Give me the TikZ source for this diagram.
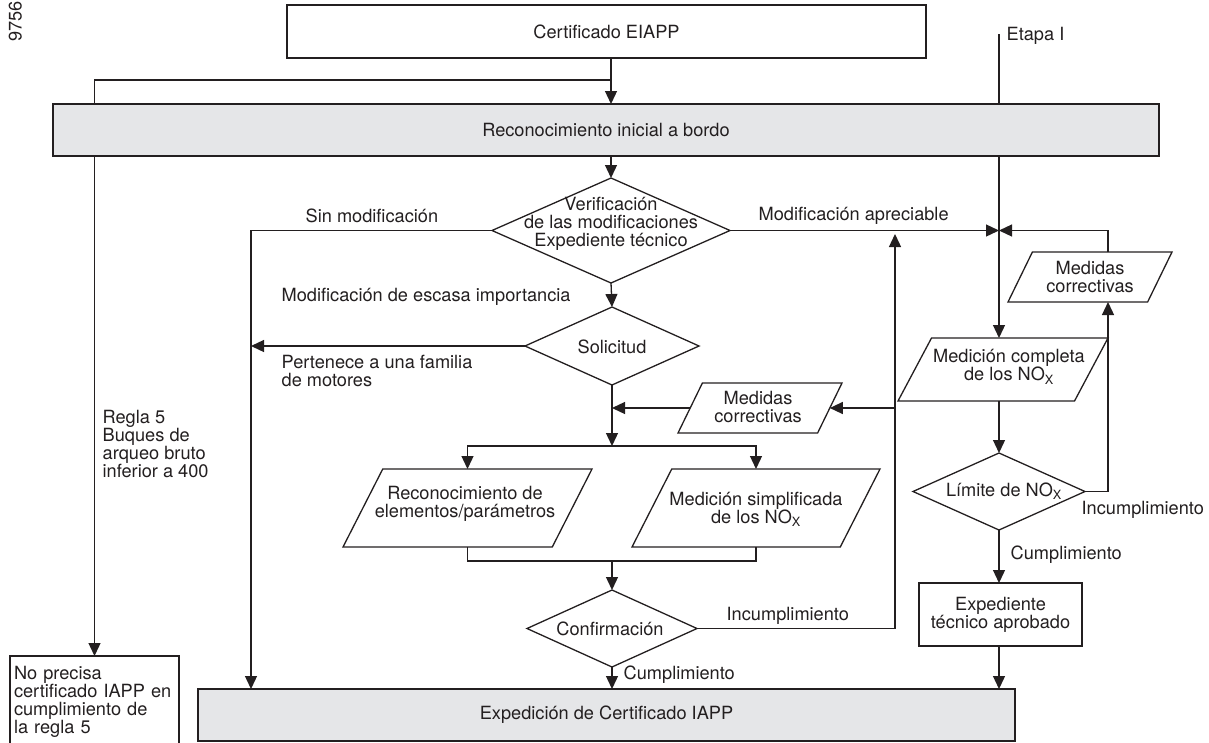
\documentclass[tikz,border=0pt]{standalone}
\usepackage{fontspec}
\setmainfont{TeX Gyre Heros}
\usetikzlibrary{arrows.meta,shapes.geometric}
\definecolor{ink}{RGB}{35,31,32}
\definecolor{panel}{RGB}{229,230,232}
\newcommand{\diagfont}{\fontsize{18.2}{18}\selectfont}

\begin{document}
\begin{tikzpicture}[x=1pt,y=1pt,yscale=-1,xscale=1,color=ink,line width=1.3pt,
  arr/.style={-{Triangle[length=13pt,width=12pt]}},
  box/.style={draw,rectangle,inner sep=0,outer sep=0,font=\diagfont,align=center},
  grey/.style={box,fill=panel},
  dec/.style={draw,diamond,inner sep=0,outer sep=0},
  io/.style={draw,trapezium,trapezium left angle=63,trapezium right angle=117,trapezium stretches body,inner xsep=0,outer sep=0},
  txt/.style={inner sep=0,align=center,font=\diagfont},
  lbl/.style={inner sep=0,align=left,anchor=west,font=\diagfont}]
\useasboundingbox (0,0) rectangle (1209,742);

%Text: figure number
\node[txt,rotate=90,anchor=base west] (fignum) at (21.5,42.5) {9756};

%Shape: Rectangle
\node[box,minimum width=639pt,minimum height=53pt] (cert) at (606.5,31.5) {Certificado EIAPP};
\node[grey,minimum width=1106pt,minimum height=52pt] (recon) at (606,130) {Reconocimiento inicial a bordo};
\node[grey,minimum width=817pt,minimum height=52pt] (exped) at (606.5,715) {Expedición de Certificado IAPP};
\node[box,anchor=north west,minimum width=169pt,minimum height=92pt,text width=161pt,inner xsep=4pt,align=left] (nop) at (10,656) {No precisa\\certificado IAPP en\\cumplimiento de\\la regla 5};
\node[box,minimum width=163pt,minimum height=63pt] (exptec) at (1000.5,614.5) {Expediente\\técnico aprobado};

%Shape: Diamond
\node[dec,minimum width=238pt,minimum height=105pt] (verif) at (611,230.5) {};
\node[txt] (verif-t) at (611,224) {Verificación\\de las modificaciones\\Expediente técnico};
\node[dec,minimum width=174pt,minimum height=78pt] (solic) at (612,346) {};
\node[txt] (solic-t) at (612,347) {Solicitud};
\node[dec,minimum width=170pt,minimum height=77pt] (confirm) at (612,628.5) {};
\node[txt] (confirm-t) at (610,628.5) {Confirmación};
\node[dec,minimum width=172pt,minimum height=77pt] (limite) at (999,491.5) {};
\node[txt] (limite-t) at (1004,491) {Límite de NO\textsubscript{X}};

%Shape: Parallelogram
\node[io,trapezium left angle=64,trapezium right angle=116,minimum width=164pt,inner ysep=25pt] (medcorr1) at (760,408) {};
\node[txt] (medcorr1-t) at (758,407) {Medidas\\correctivas};
\node[io,trapezium left angle=64,trapezium right angle=116,minimum width=164pt,inner ysep=25pt] (medcorr2) at (1090,277) {};
\node[txt] (medcorr2-t) at (1090,277) {Medidas\\correctivas};
\node[io,minimum width=249pt,inner ysep=39pt] (recel) at (467.5,508) {};
\node[txt] (recel-t) at (465,504) {Reconocimiento de\\elementos/parámetros};
\node[io,minimum width=248pt,inner ysep=39pt] (medsimp) at (756,508) {};
\node[txt] (medsimp-t) at (756,509) {Medición simplificada\\de los NO\textsubscript{X}};
\node[io,trapezium left angle=62,trapezium right angle=118,minimum width=210pt,inner ysep=31.5pt] (medcomp) at (1003,369.5) {};
\node[txt] (medcomp-t) at (1009,367) {Medición completa\\de los NO\textsubscript{X}};

%Straight Lines
\coordinate (loop) at (612,80);
\coordinate (etapa) at (999,34);
\coordinate (sinmod) at (251,689);
\coordinate (split) at (612,446);
\coordinate (merge) at (612,561);
\coordinate (back) at (895,234);

\draw[arr] (cert.south -| verif.north) -- (recon.north -| verif.north);
\draw (recon.north -| nop.north) |- (loop);
\draw (etapa) -- (etapa |- recon.north);
\draw[arr] (recon.south -| nop.north) -- (nop.north);
\draw[arr] (recon.south -| verif.north) -- (verif.north);
\draw[arr] (verif.west) -| (sinmod);
\draw[arr] (verif.east) -- (verif.east -| etapa);
\draw[arr] (recon.south -| etapa) -- (etapa |- medcomp.north);
\draw[arr] (verif.south) -- (solic.north);
\draw[arr] (solic.west) -- (solic.west -| sinmod);
\draw[arr] (solic.south) -- (split);
\draw[arr] (split) -| (recel.north -| recel.center);
\draw[arr] (split) -| (medsimp.north -| medsimp.center);
\draw (recel.south -| recel.center) |- (merge) -| (medsimp.south -| medsimp.center);
\draw[arr] (merge) -- (confirm.north);
\draw[arr] (confirm.south) -- (confirm.south |- exped.north);
\draw[arr] (confirm.east) -| (back);
\draw[arr] (back |- medcorr1.east) -- (medcorr1.east);
\draw[arr] (medcorr1.west) -- (medcorr1.west -| split);
\draw[arr] (limite.north |- medcomp.south) -- (limite.north);
\draw[arr] (limite.east) -| (medcorr2.south -| medcomp.top right corner);
\draw[arr] (medcorr2.north -| medcomp.top right corner) |- (verif.east -| etapa);
\draw[arr] (limite.south) -- (limite.south |- exptec.north);
\draw[arr] (limite.south |- exptec.south) -- (limite.south |- exped.north);

%Text: branch labels
\node[lbl] (etapa-l) at (1006,36) {Etapa I};
\node[lbl] (regla-l) at (102,444) {Regla 5\\Buques de\\arqueo bruto\\inferior a 400};
\node[lbl] (sinmod-l) at (305,216) {Sin modificación};
\node[lbl] (apre-l) at (758,216) {Modificación apreciable};
\node[lbl] (escasa-l) at (281,297) {Modificación de escasa importancia};
\node[lbl] (familia-l) at (281,371) {Pertenece a una familia\\de motores};
\node[lbl] (incumple1-l) at (726,616) {Incumplimiento};
\node[lbl] (cumple1-l) at (623,675) {Cumplimiento};
\node[lbl] (incumple2-l) at (1081,510) {Incumplimiento};
\node[lbl] (cumple2-l) at (1010,555) {Cumplimiento};

\end{tikzpicture}
\end{document}
